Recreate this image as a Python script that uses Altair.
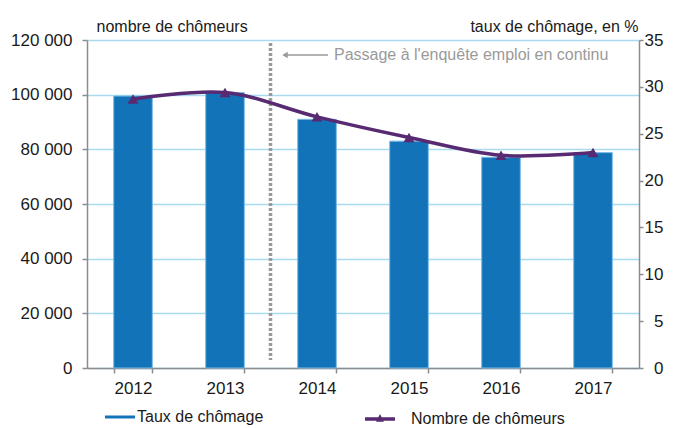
import altair as alt
import pandas as pd

years = ["2012", "2013", "2014", "2015", "2016", "2017"]
chomeurs = [99500, 100800, 91000, 83000, 77100, 78800]
taux = [28.7, 29.4, 26.8, 24.6, 22.7, 23.0]
left_ticks = [0, 20000, 40000, 60000, 80000, 100000, 120000]
right_ticks = [0, 5, 10, 15, 20, 25, 30, 35]
bar_label = "Taux de chômage"
line_label = "Nombre de chômeurs"
annotation = "Passage à l'enquête emploi en continu"

FONT = "Liberation Sans"
BLUE = "#1273b8"
PURPLE = "#572a72"
GRID = "#a8dbf0"
AXIS = "#8c8c8c"

df = pd.DataFrame({"annee": years, "chomeurs": chomeurs, "taux": taux,
                   "sb": [bar_label] * 6, "sl": [line_label] * 6})

x_scale = alt.Scale(paddingInner=0.58, paddingOuter=0.29)
x_axis = alt.Axis(title=None, labelAngle=0, tickBand="extent", tickSize=5,
                  labelPadding=7, labelFontSize=17, grid=False)

bars = alt.Chart(df).mark_bar(stroke="#7fbce6", strokeWidth=1).encode(
    x=alt.X("annee:N", sort=years, scale=x_scale, axis=x_axis),
    y=alt.Y("chomeurs:Q", scale=alt.Scale(domain=[0, 120000], nice=False),
            axis=alt.Axis(orient="left", values=left_ticks, title="nombre de chômeurs",
                          titleAngle=0, titleAlign="left", titleBaseline="alphabetic",
                          titleX=9, titleY=-9, titleFontSize=16, titleFontWeight="normal",
                          labelExpr="replace(format(datum.value, ','), ',', ' ')",
                          labelFontSize=17, labelPadding=10, tickSize=5,
                          grid=True, gridColor=GRID, gridWidth=1.5)),
    color=alt.Color("sb:N", scale=alt.Scale(domain=[bar_label], range=[BLUE]),
                    legend=alt.Legend(orient="none", legendX=18, legendY=362, title=None,
                                      symbolType="M-1,-0.1L1,-0.1L1,0.1L-1,0.1Z",
                                      symbolSize=900, symbolStrokeWidth=0, labelLimit=300,
                                      labelFontSize=16, labelOffset=2, padding=0)),
)

sep = alt.Chart(pd.DataFrame({"a": [1]})).mark_rule(
    color="#999999", strokeWidth=3.5, strokeDash=[3, 2]
).encode(x=alt.value(183.5), y=alt.value(3), y2=alt.value(320))

arrow_line = alt.Chart(pd.DataFrame({"a": [1]})).mark_rule(color="#999999", strokeWidth=1.5).encode(
    x=alt.value(198), x2=alt.value(241), y=alt.value(15))
arrow_head = alt.Chart(pd.DataFrame({"a": [1]})).mark_point(
    shape="triangle-left", filled=True, color="#999999", size=40, opacity=1).encode(
    x=alt.value(198), y=alt.value(15))
annot = alt.Chart(pd.DataFrame({"t": [annotation]})).mark_text(
    align="left", baseline="alphabetic", fontSize=16, font=FONT, color="#9a9a9a").encode(
    text="t:N", x=alt.value(247), y=alt.value(20))

left = alt.layer(bars, sep, arrow_line, arrow_head, annot)

y_right = alt.Y("taux:Q", scale=alt.Scale(domain=[0, 35], nice=False),
                axis=alt.Axis(orient="right", values=right_ticks, title="taux de chômage, en %",
                              titleAngle=0, titleAlign="right", titleBaseline="alphabetic",
                              titleX=-1, titleY=-9, titleFontSize=16, titleFontWeight="normal",
                              labelFontSize=17, labelAlign="right", labelPadding=20,
                              tickSize=4, grid=False))

line = alt.Chart(df).mark_line(strokeWidth=3.5, interpolate="catmull-rom").encode(
    x=alt.X("annee:N", sort=years),
    y=y_right,
    stroke=alt.Stroke("sl:N", scale=alt.Scale(domain=[line_label], range=[PURPLE]),
                      legend=alt.Legend(orient="none", legendX=276, legendY=362, title=None,
                                        symbolType="M-1,0L1,0M-0.07,0.06L0,-0.08L0.07,0.06Z",
                                        symbolSize=900, symbolStrokeWidth=3.5,
                                        symbolFillColor=PURPLE, labelLimit=300,
                                        labelFontSize=16, labelOffset=14, padding=0)),
)
pts = alt.Chart(df).mark_point(shape="triangle-up", filled=True, color=PURPLE, size=120, opacity=1).encode(
    x=alt.X("annee:N", sort=years),
    y=alt.Y("taux:Q"),
)
right = alt.layer(line, pts)

chart = alt.layer(left, right).resolve_scale(y="independent").properties(
    width=552, height=328,
    padding={"left": 87, "top": 40, "right": 37, "bottom": 60},
    autosize=alt.AutoSizeParams(type="none"),
).configure(font=FONT).configure_view(stroke=None).configure_axis(
    labelFont=FONT, titleFont=FONT, labelColor="#1a1a1a", titleColor="#1a1a1a",
    domainColor=AXIS, tickColor=AXIS, domainWidth=1.5, tickWidth=1.5,
).configure_legend(labelFont=FONT, labelColor="#1a1a1a")

chart.save("out.html", embed_options={"renderer": "svg", "actions": False})
